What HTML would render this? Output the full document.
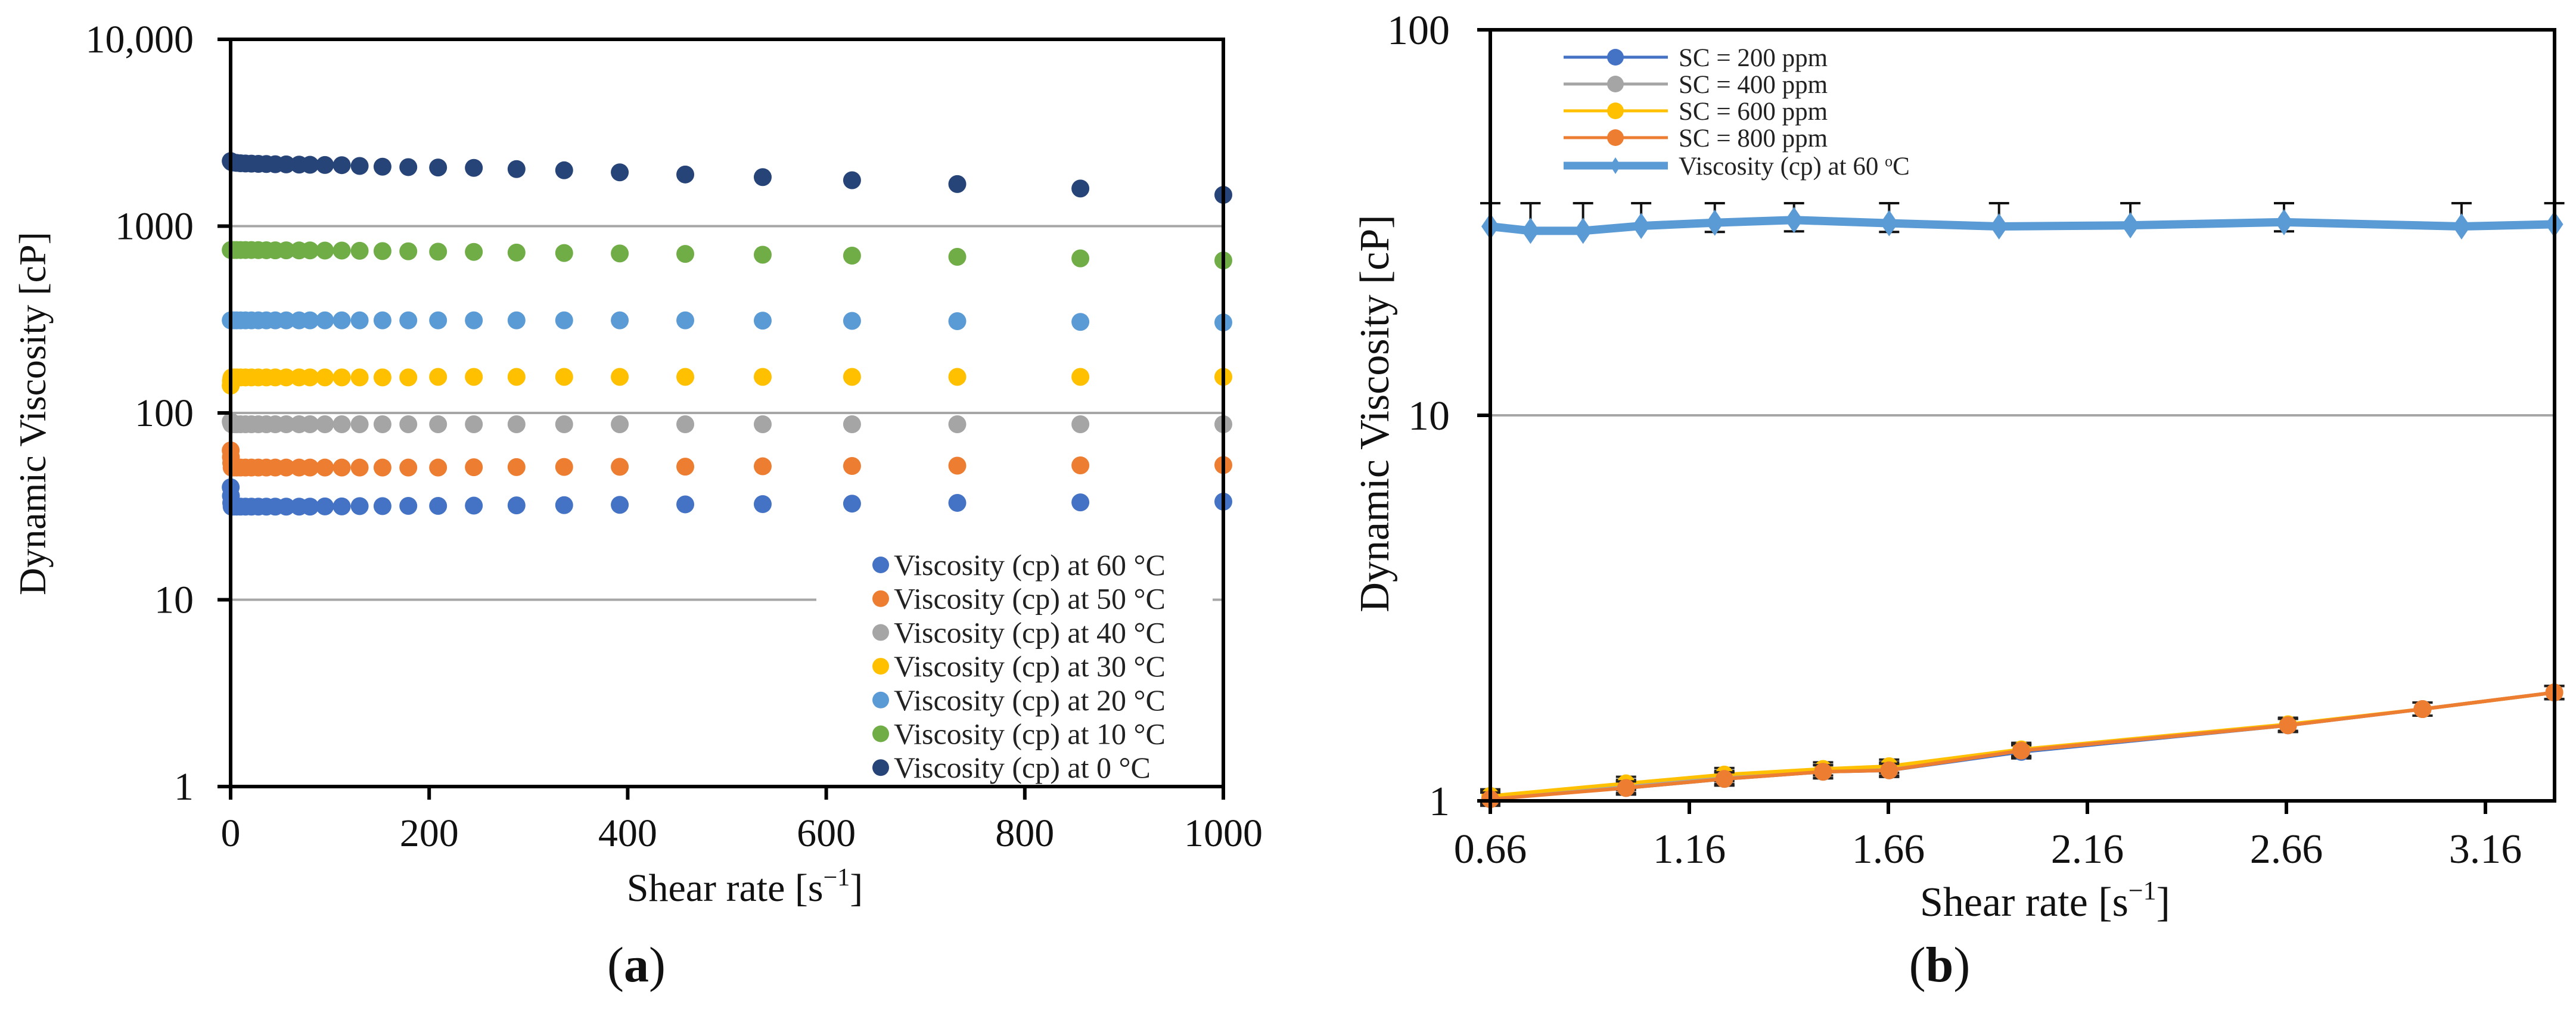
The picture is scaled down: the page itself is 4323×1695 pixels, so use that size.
<!DOCTYPE html>
<html><head><meta charset="utf-8"><style>
html,body{margin:0;padding:0;background:#fff;}
svg{display:block;font-family:"Liberation Serif",serif;}
</style></head><body>
<svg id="fig" width="4323" height="1695" viewBox="0 0 4323 1695">
<rect width="4323" height="1695" fill="#fff"/>
<g id="pa"></g>
<g id="pb"></g>
</svg>
<script>
// ---------- Panel (a) data ----------
const aShear = [0.1,0.3,0.6,1,3,6,10,15,21,28,36,45,56,69,80,95,112,130,153,179,209,245,288,336,392,458,536,626,732,856,1000];
const aSeriesNames = ["Viscosity (cp) at 60 °C","Viscosity (cp) at 50 °C","Viscosity (cp) at 40 °C","Viscosity (cp) at 30 °C","Viscosity (cp) at 20 °C","Viscosity (cp) at 10 °C","Viscosity (cp) at 0 °C"];
const aColors = ["#4472C4","#ED7D31","#A5A5A5","#FFC000","#5B9BD5","#70AD47","#264478"];
const a60 = [40,36,33,31.5,31.5,31.5,31.5,31.5,31.5,31.5,31.5,31.5,31.5,31.5,31.5,31.6,31.6,31.7,31.7,31.8,31.8,31.9,32,32.1,32.2,32.4,32.5,32.7,33,33.2,33.5];
const a50 = [63,58,54,51,51,51,51,51,51,51,51,51,51,51,51,51,51,51,51,51,51,51.2,51.3,51.4,51.5,51.6,51.8,52,52.2,52.4,52.6];
const a40 = [90,89,88,87,87,87,87,87,87,87,87,87,87,87,87,87,87,87,87,87,87,87,87,87,87,87,87,87,87,87,87];
const a30 = [140,148,153,155,155,155,155,155,155,155,155,155,155,155,155,155,155,155,155,155,156,156,156,156,156,156,156,156,156,156,156];
const a20 = [313,313,313,313,313,313,313,313,313,313,313,313,313,313,313,313,313,313,313,313,313,313,313,313,313,313,312,311,310,307,305];
const a10 = [745,745,745,745,745,745,745,745,745,744,743,742,742,741,741,740,740,738,735,733,730,728,722,718,714,710,703,695,685,672,655];
const a0 = [2230,2220,2210,2200,2190,2180,2170,2165,2160,2155,2150,2145,2140,2135,2130,2125,2120,2100,2080,2070,2060,2050,2020,1990,1940,1890,1830,1760,1680,1590,1470];
const aXTicks = [0,200,400,600,800,1000];
const aYTicks = [1,10,100,1000,10000];
const aYTickLabels = ["1","10","100","1000","10,000"];

// ---------- Panel (b) data ----------
const bViscX = [0.66,0.761,0.893,1.039,1.224,1.423,1.662,1.938,2.268,2.654,3.100,3.333];
const bViscY = [30.9,30.1,30.1,31.0,31.6,32.1,31.5,30.9,31.1,31.7,30.9,31.3];
const bViscErrHi = [35.5,35.5,35.5,35.5,35.5,35.5,35.5,35.5,35.5,35.5,35.5,35.5];
const bViscErrLo = [30.9,30.1,30.1,31.0,29.9,30.0,29.9,30.9,31.1,30.0,30.9,31.3];
const bScX = [0.66,1.001,1.248,1.496,1.662,1.994,2.664,3.002,3.333];
const bSc200 = [1.02,1.08,1.14,1.19,1.20,1.34,1.57,1.73,1.91];
const bSc400 = [1.02,1.09,1.15,1.19,1.21,1.35,1.57,1.73,1.91];
const bSc600 = [1.03,1.11,1.17,1.21,1.23,1.36,1.58,1.73,1.91];
const bSc800 = [1.01,1.08,1.14,1.19,1.20,1.35,1.57,1.73,1.91];
const bScNames = ["SC = 200 ppm","SC = 400 ppm","SC = 600 ppm","SC = 800 ppm"];
const bScColors = ["#4472C4","#A5A5A5","#FFC000","#ED7D31"];
const bXTicks = [0.66,1.16,1.66,2.16,2.66,3.16];
const bXTickLabels = ["0.66","1.16","1.66","2.16","2.66","3.16"];
const bYTicks = [1,10,100];

const NS="http://www.w3.org/2000/svg";
function mk(parent,tag,attrs,text){const e=document.createElementNS(NS,tag);for(const k in attrs)e.setAttribute(k,attrs[k]);if(text!==undefined)e.textContent=text;parent.appendChild(e);return e;}

// ----- Panel A -----
const A={l:387,r:2053,t:66,b:1320};
const xA=v=>A.l+v/1000*(A.r-A.l);
const yA=v=>A.b-(A.b-A.t)/4*Math.log10(v);
const pa=document.getElementById('pa');
[10,100,1000].forEach(v=>{
  const g=mk(pa,'line',{x1:A.l,x2:A.r,y1:yA(v),y2:yA(v),stroke:'#a6a6a6','stroke-width':4});
  
  
});
const aSeries=[a60,a50,a40,a30,a20,a10,a0];
aSeries.forEach((vals,si)=>{
  const grp=mk(pa,'g',{});
  
  
  vals.forEach((v,i)=>{
    const c=mk(grp,'circle',{cx:xA(aShear[i]),cy:yA(v),r:15,fill:aColors[si]});
    
    
  });
});
// legend a
const legA=mk(pa,'g',{});


mk(legA,'rect',{x:1370,y:915,width:665,height:400,fill:'#fff'});
aSeriesNames.forEach((n,i)=>{
  const y=948+i*56.7;
  const e=mk(legA,'g',{});
  
  
  mk(e,'circle',{cx:1478,cy:y,r:14,fill:aColors[i]});
  mk(e,'text',{x:1500,y:y+17,'font-size':50,fill:'#222'},n);
});
// frame a
const fa=mk(pa,'rect',{x:A.l,y:A.t,width:A.r-A.l,height:A.b-A.t,fill:'none',stroke:'#000','stroke-width':6});


aYTicks.forEach((v,i)=>{
  mk(pa,'line',{x1:A.l-22,x2:A.l,y1:yA(v),y2:yA(v),stroke:'#000','stroke-width':6});
  const t=mk(pa,'text',{x:A.l-62,y:yA(v)+22,'font-size':66,'text-anchor':'end',fill:'#111'},aYTickLabels[i]);
  
  
});
aXTicks.forEach(v=>{
  mk(pa,'line',{x1:xA(v),x2:xA(v),y1:A.b,y2:A.b+22,stroke:'#000','stroke-width':6});
  const t=mk(pa,'text',{x:xA(v),y:1420,'font-size':66,'text-anchor':'middle',fill:'#111'},String(v));
  
  
});
const xta=mk(pa,'text',{x:1250,y:1512,'font-size':66,'text-anchor':'middle',fill:'#111'});


xta.innerHTML='Shear rate [s<tspan dy="-26" font-size="42">−1</tspan><tspan dy="26">]</tspan>';
const yta=mk(pa,'text',{x:0,y:0,'font-size':64,'text-anchor':'middle',fill:'#111',transform:'translate(76,694) rotate(-90)'},'Dynamic Viscosity [cP]');


const capA=mk(pa,'text',{x:1068,y:1647,'font-size':84,'text-anchor':'middle',fill:'#111'});


capA.innerHTML='(<tspan font-weight="bold">a</tspan>)';

// ----- Panel B -----
const B={l:2501,r:4287,t:50,b:1344};
const xB=v=>B.l+(v-0.66)*668;
const yB=v=>B.b-(B.b-B.t)/2*Math.log10(v);
const pb=document.getElementById('pb');
const gb=mk(pb,'line',{x1:B.l,x2:B.r,y1:yB(10),y2:yB(10),stroke:'#a6a6a6','stroke-width':4});


const defs=mk(document.getElementById('fig'),'defs',{});
const cp=mk(defs,'clipPath',{id:'clipb'});
mk(cp,'rect',{x:B.l-20,y:B.t,width:B.r-B.l+40,height:B.b-B.t+20});
const plotB=mk(pb,'g',{'clip-path':'url(#clipb)'});
bViscX.forEach((x,i)=>{
  const eb=mk(plotB,'g',{stroke:'#111','stroke-width':4});
  
  
  const px=xB(x);
  mk(eb,'line',{x1:px,x2:px,y1:yB(bViscErrHi[i]),y2:yB(bViscErrLo[i])});
  mk(eb,'line',{x1:px-17,x2:px+17,y1:yB(bViscErrHi[i]),y2:yB(bViscErrHi[i])});
  if(bViscErrLo[i]<bViscY[i]) mk(eb,'line',{x1:px-17,x2:px+17,y1:yB(bViscErrLo[i]),y2:yB(bViscErrLo[i])});
});
const vl=mk(plotB,'polyline',{points:bViscX.map((x,i)=>xB(x)+','+yB(bViscY[i])).join(' '),fill:'none',stroke:'#5B9BD5','stroke-width':14,'stroke-linejoin':'round'});


bViscX.forEach((x,i)=>{
  const px=xB(x),py=yB(bViscY[i]);
  const d=mk(plotB,'polygon',{points:`${px},${py-22} ${px+15},${py} ${px},${py+22} ${px-15},${py}`,fill:'#5B9BD5'});
  
  
});
const bSc=[bSc200,bSc400,bSc600,bSc800];
bSc.forEach((vals,si)=>{
  const g=mk(plotB,'g',{});
  
  
  vals.forEach((v,i)=>{
    const px=xB(bScX[i]);
    mk(g,'line',{x1:px,x2:px,y1:yB(v*1.04),y2:yB(v/1.04),stroke:'#222','stroke-width':4});
    mk(g,'line',{x1:px-17,x2:px+17,y1:yB(v*1.04),y2:yB(v*1.04),stroke:'#222','stroke-width':4});
    mk(g,'line',{x1:px-17,x2:px+17,y1:yB(v/1.04),y2:yB(v/1.04),stroke:'#222','stroke-width':4});
  });
  mk(g,'polyline',{points:vals.map((v,i)=>xB(bScX[i])+','+yB(v)).join(' '),fill:'none',stroke:bScColors[si],'stroke-width':6});
  vals.forEach((v,i)=>{
    const c=mk(g,'circle',{cx:xB(bScX[i]),cy:yB(v),r:15,fill:bScColors[si]});
    
    
  });
});
const legB=mk(pb,'g',{});


bScNames.forEach((n,i)=>{
  const y=96+i*45;
  const e=mk(legB,'g',{});
  
  
  mk(e,'line',{x1:2624,x2:2799,y1:y,y2:y,stroke:bScColors[i],'stroke-width':5});
  mk(e,'circle',{cx:2711,cy:y,r:14,fill:bScColors[i]});
  mk(e,'text',{x:2817,y:y+15,'font-size':43,fill:'#222'},n);
});
(function(){const y=96+4*45+2;
  const e=mk(legB,'g',{});
  
  
  mk(e,'line',{x1:2624,x2:2799,y1:y,y2:y,stroke:'#5B9BD5','stroke-width':13});
  mk(e,'polygon',{points:`2711,${y-14} 2720,${y} 2711,${y+14} 2702,${y}`,fill:'#5B9BD5'});
  const t=mk(e,'text',{x:2817,y:y+15,'font-size':43,fill:'#222'});
  t.innerHTML='Viscosity (cp) at 60 <tspan dy="-14" font-size="26">o</tspan><tspan dy="14">C</tspan>';
})();
const fb=mk(pb,'rect',{x:B.l,y:B.t,width:B.r-B.l,height:B.b-B.t,fill:'none',stroke:'#000','stroke-width':6});


bYTicks.forEach(v=>{
  mk(pb,'line',{x1:B.l-22,x2:B.l,y1:yB(v),y2:yB(v),stroke:'#000','stroke-width':6});
  const t=mk(pb,'text',{x:B.l-68,y:yB(v)+24,'font-size':70,'text-anchor':'end',fill:'#111'},String(v));
  
  
});
bXTicks.forEach((v,i)=>{
  mk(pb,'line',{x1:xB(v),x2:xB(v),y1:B.b,y2:B.b+22,stroke:'#000','stroke-width':6});
  const t=mk(pb,'text',{x:xB(v),y:1448,'font-size':70,'text-anchor':'middle',fill:'#111'},bXTickLabels[i]);
  
  
});
const xtb=mk(pb,'text',{x:3432,y:1537,'font-size':70,'text-anchor':'middle',fill:'#111'});


xtb.innerHTML='Shear rate [s<tspan dy="-28" font-size="44">−1</tspan><tspan dy="28">]</tspan>';
const ytb=mk(pb,'text',{x:0,y:0,'font-size':70,'text-anchor':'middle',fill:'#111',transform:'translate(2330,694) rotate(-90)'},'Dynamic Viscosity [cP]');


const capB=mk(pb,'text',{x:3255,y:1647,'font-size':84,'text-anchor':'middle',fill:'#111'});


capB.innerHTML='(<tspan font-weight="bold">b</tspan>)';
</script>
</body></html>
